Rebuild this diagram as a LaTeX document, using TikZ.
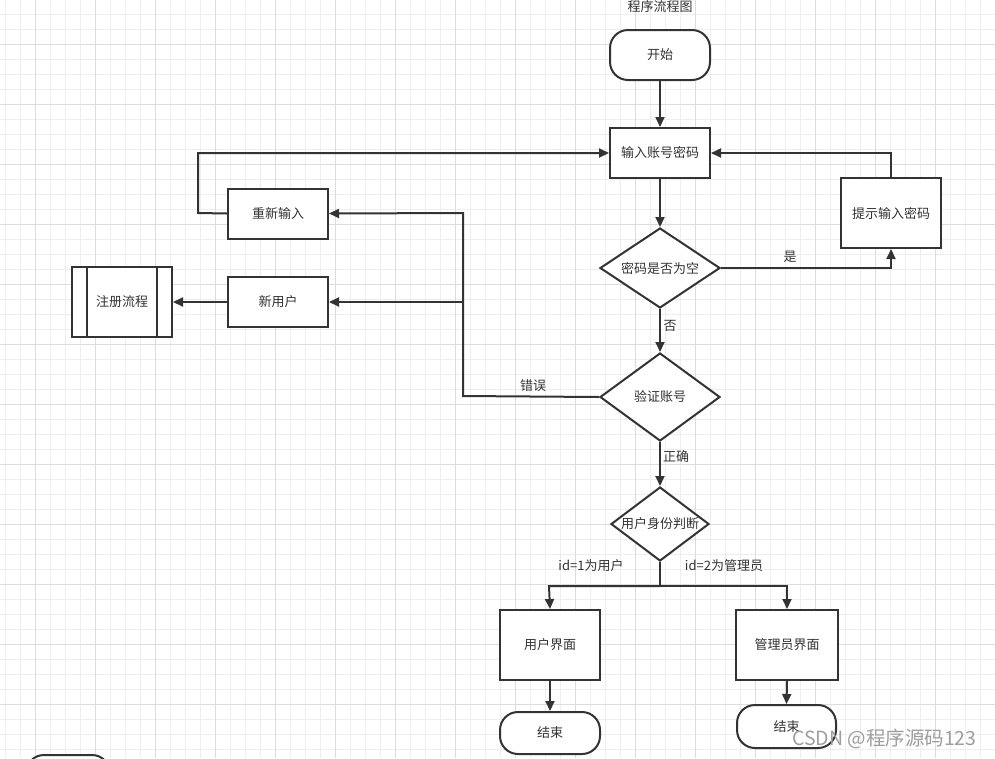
\documentclass[tikz,border=0pt]{standalone}
\usepackage{fontspec}
\setmainfont{Noto Sans CJK SC}
\usetikzlibrary{arrows.meta,shapes.geometric}
\definecolor{ink}{HTML}{333333}
\definecolor{gminor}{HTML}{EEEEEE}
\definecolor{gmajor}{HTML}{DCDCDC}
\tikzset{
  box/.style={draw=ink,line width=2pt,fill=white,rectangle,inner sep=0pt,minimum width=100pt,minimum height=50pt,font=\fontsize{13}{15}\selectfont,text=ink},
  term/.style={box,rounded corners=18pt},
  dia/.style={draw=ink,line width=2pt,fill=white,diamond,inner sep=0pt,minimum width=120pt,minimum height=80pt,aspect=1.5,font=\fontsize{13}{15}\selectfont,text=ink},
  conn/.style={draw=ink,line width=2pt,-{Triangle[length=10pt,width=9pt]}},
  plain/.style={draw=ink,line width=2pt},
  lbl/.style={font=\fontsize{13}{15}\selectfont,text=ink,inner sep=0pt},
}
\begin{document}
\begin{tikzpicture}[x=1pt,y=-1pt]
\useasboundingbox (0,0) rectangle (995,758);
\fill[white] (0,0) rectangle (995,758);
% grid
\foreach \x in {5,20,...,995} \draw[gminor,line width=1pt] (\x,0) -- (\x,758);
\foreach \y in {-1,14,...,758} \draw[gminor,line width=1pt] (0,\y) -- (995,\y);
\foreach \x in {35,95,...,995} \draw[gmajor,line width=1pt] (\x,0) -- (\x,758);
\foreach \y in {44,104,...,758} \draw[gmajor,line width=1pt] (0,\y) -- (995,\y);

% title
\node[lbl] (title) at (660,7) {程序流程图};

% nodes
\node[term] (start) at (660,55) {开始};
\node[box] (input) at (660,153) {输入账号密码};
\node[dia] (empty) at (660,268) {密码是否为空};
\node[box,minimum height=70pt] (hint) at (891,213) {提示输入密码};
\node[dia,minimum height=88pt,aspect=1.36] (verify) at (660,397) {验证账号};
\node[box] (retry) at (278,213.5) {重新输入};
\node[box] (newuser) at (278,302) {新用户};
\node[box,minimum height=70pt] (reg) at (122,302) {注册流程};
\draw[ink,line width=2pt] ([xshift=16pt]reg.north west) -- ([xshift=16pt]reg.south west);
\draw[ink,line width=2pt] ([xshift=-16pt]reg.north east) -- ([xshift=-16pt]reg.south east);
\node[dia,minimum width=98pt,minimum height=74pt,aspect=1.32] (role) at (660,524) {用户身份判断};
\node[box,minimum height=70pt] (ui) at (550,645) {用户界面};
\node[box,minimum width=102pt,minimum height=70pt] (admin) at (787,645) {管理员界面};
\node[term,minimum height=42pt] (end1) at (550,733) {结束};
\node[term,minimum width=99pt,minimum height=43pt] (end2) at (786.5,726.5) {结束};
\node[term,minimum width=84pt,minimum height=42pt] (partial) at (68,776) {};

% coordinates
\coordinate (hintin) at (891,268);
\coordinate (hintup) at (891,153);
\coordinate (errx) at (463,396);
\coordinate (errtop) at (463,213);
\coordinate (errmid) at (463,302);
\coordinate (rl) at (198,213);
\coordinate (rt) at (198,153);
\coordinate (split) at (660,586);
\coordinate (sl) at (549,586);
\coordinate (sr) at (787,586);

% connectors
\draw[conn] (start) -- (input);
\draw[conn] (input) -- (empty);
\draw[conn] (empty.east) -- (hintin) -- (hint.south);
\draw[conn] (hint.north) -- (hintup) -- (input.east);
\draw[conn] (empty.south) -- (verify.north);
\draw[conn] (verify.west) -- (errx) -- (errtop) -- (retry.east);
\draw[conn] (errmid) -- (newuser.east);
\draw[conn] (retry.west) -- (rl) -- (rt) -- (input.west);
\draw[conn] (newuser.west) -- (reg.east);
\draw[conn] (verify.south) -- (role.north);
\draw[plain] (role.south) -- (split);
\draw[conn] (split) -- (sl) -- (ui.north);
\draw[conn] (split) -- (sr) -- (admin.north);
\draw[conn] (ui.south) -- (end1.north);
\draw[conn] (admin.south) -- (end2.north);

% labels
\node[lbl] (lyes) at (790,257) {是};
\node[lbl] (lno) at (670,326) {否};
\node[lbl] (lerr) at (533,386) {错误};
\node[lbl] (lok) at (676,457) {正确};
\node[lbl] (lid1) at (591,566) {id=1为用户};
\node[lbl] (lid2) at (724,566) {id=2为管理员};

% watermark
\node[inner sep=0pt,anchor=west,font=\fontsize{19.5}{21}\selectfont,text=black!38] (wm) at (792,739) {CSDN @程序源码123};
\end{tikzpicture}
\end{document}
